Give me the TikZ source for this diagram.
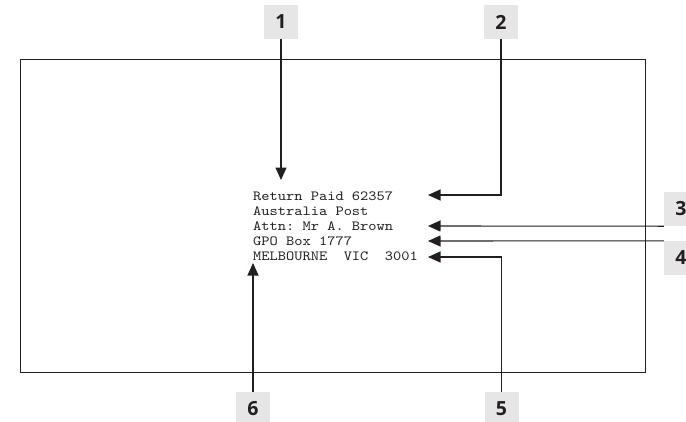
\documentclass[tikz,border=0pt]{standalone}
\usepackage{fontspec}
\newfontfamily\addrfont{lmmono10-regular.otf}[FakeStretch=1.12]
\newfontfamily\numfont{Open Sans}
\usetikzlibrary{arrows.meta}
\definecolor{ink}{HTML}{231F20}
\definecolor{tagfill}{HTML}{E6E6E6}
\begin{document}
\begin{tikzpicture}[x=1pt,y=-1pt,
  tag/.style={fill=tagfill, minimum width=34pt, minimum height=34pt, inner sep=0pt,
    font=\numfont\bfseries\fontsize{19.5}{19.5}\selectfont, text=ink},
  addr/.style={anchor=base west, inner sep=0pt,
    font=\addrfont\frenchspacing\fontsize{14}{15}\selectfont, text=ink},
  pointer/.style={draw=ink, line width=1.1pt, -{Triangle[length=12.5pt,width=11pt]}},
  envelope/.style={draw=ink, line width=1pt, minimum width=625pt, minimum height=313pt,
    inner sep=0pt, anchor=north west}]
\useasboundingbox (0,0) rectangle (686,421);
\node[envelope] (env) at (20,59) {};
% address lines
\node[addr] (l1) at (253,200) {Return Paid 62357};
\node[addr] (l2) at (253,215.5) {Australia Post};
\node[addr] (l3) at (253,230) {Attn: Mr A. Brown};
\node[addr] (l4) at (253,245) {GPO Box 1777};
\node[addr] (l5) at (253,260) {MELBOURNE\ \ VIC\ \ 3001};
% tags
\node[tag] (t1) at (281,22) {1};
\node[tag] (t2) at (501,22) {2};
\node[tag] (t3) at (681,209) {3};
\node[tag] (t4) at (681,258) {4};
\node[tag] (t5) at (501.5,409) {5};
\node[tag] (t6) at (253,409) {6};
% arrow tips
\coordinate (p1) at (281,180);
\coordinate (p2) at (428,195);
\coordinate (p3) at (428,226);
\coordinate (p4) at (428,241);
\coordinate (p5) at (428,257);
\coordinate (p6) at (253,263);
\draw[pointer] (t1.south) -- (p1);
\draw[pointer] (t2.south) |- (p2);
\draw[pointer] (t3.south west) -- (p3);
\draw[pointer] (t4.north west) -- (p4);
\draw[pointer] (t5.north) |- (p5);
\draw[pointer] (t6.north) -- (p6);
\end{tikzpicture}
\end{document}
